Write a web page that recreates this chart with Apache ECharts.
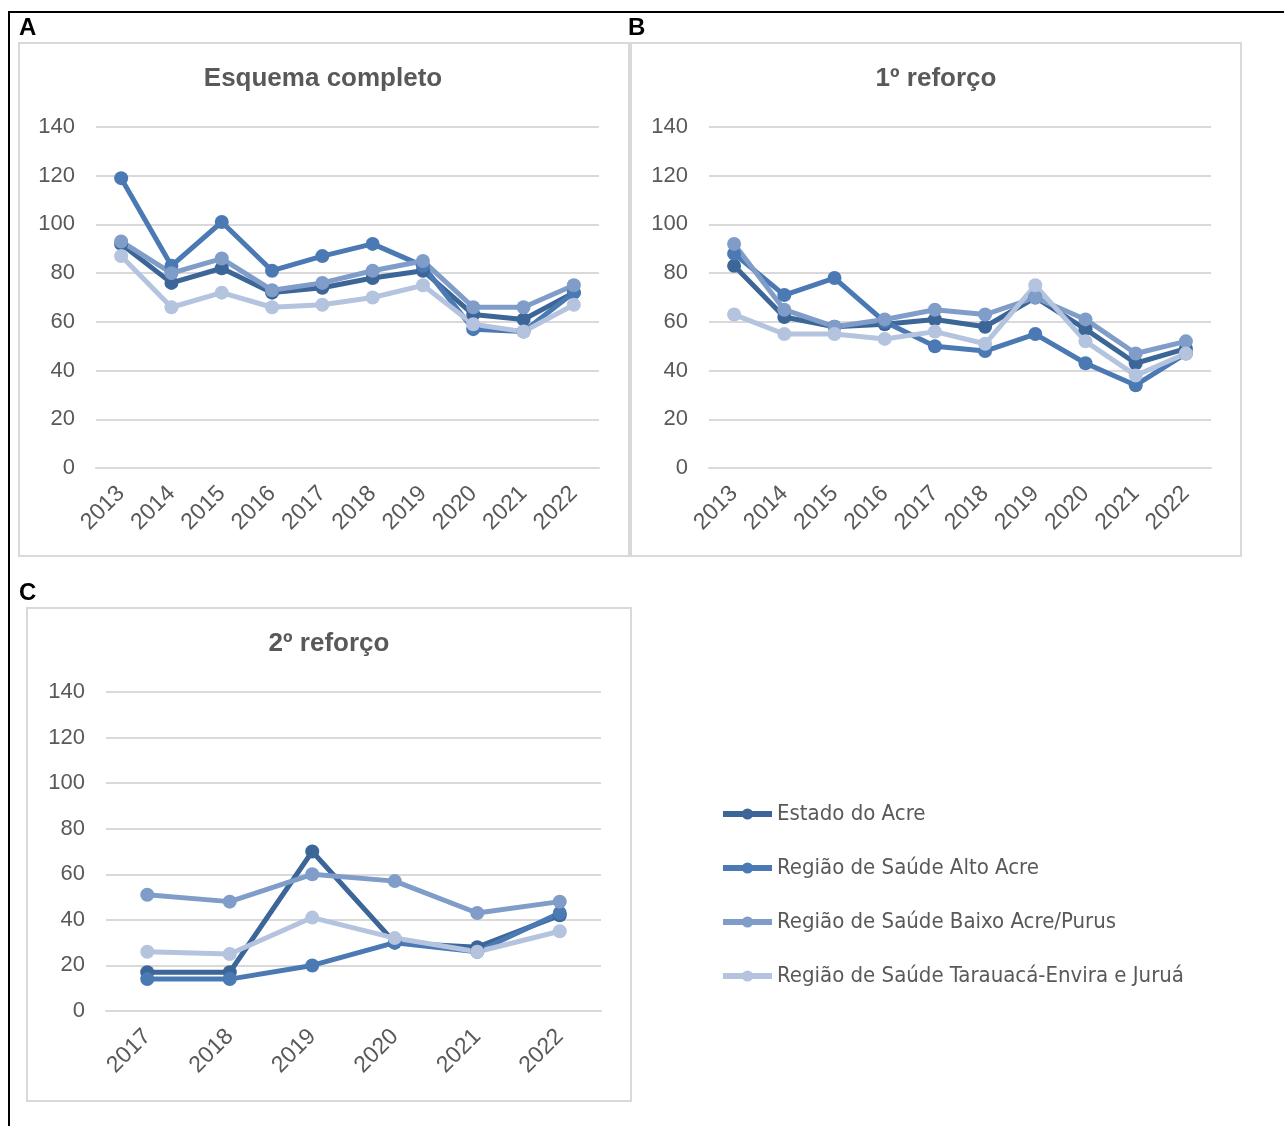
<!DOCTYPE html>
<html>
<head>
<meta charset="utf-8">
<script src="https://cdn.jsdelivr.net/npm/echarts@6/dist/echarts.min.js"></script>
<style>
html,body{margin:0;padding:0;background:#fff;}
#chart{width:1284px;height:1126px;}
</style>
</head>
<body>
<div id="chart"></div>
<script>
// ---- data ----
const yearsAB = ['2013','2014','2015','2016','2017','2018','2019','2020','2021','2022'];
const yearsC = ['2017','2018','2019','2020','2021','2022'];
const seriesNames = ['Estado do Acre','Região de Saúde Alto Acre','Região de Saúde Baixo Acre/Purus','Região de Saúde Tarauacá-Envira e Juruá'];
const yTicks = [0,20,40,60,80,100,120,140];

// A: Esquema completo
const A_estado = [92, 76, 82, 72, 74, 78, 81, 63, 61, 72];
const A_alto   = [119, 83, 101, 81, 87, 92, 83, 57, 56, 72];
const A_baixo  = [93, 80, 86, 73, 76, 81, 85, 66, 66, 75];
const A_tara   = [87, 66, 72, 66, 67, 70, 75, 59, 56, 67];

// B: 1º reforço
const B_estado = [83, 62, 58, 59, 61, 58, 70, 57, 43, 49];
const B_alto   = [88, 71, 78, 60, 50, 48, 55, 43, 34, 47];
const B_baixo  = [92, 65, 58, 61, 65, 63, 70, 61, 47, 52];
const B_tara   = [63, 55, 55, 53, 56, 51, 75, 52, 38, 47];

// C: 2º reforço
const C_estado = [17, 17, 70, 30, 28, 42];
const C_alto   = [14, 14, 20, 30, 26, 43];
const C_baixo  = [51, 48, 60, 57, 43, 48];
const C_tara   = [26, 25, 41, 32, 26, 35];

const titles = ['Esquema completo', '1º reforço', '2º reforço'];
const panelLetters = ['A', 'B', 'C'];

// ---- styling ----
const colors = ['#3c6698', '#4a79b3', '#7f9dc8', '#b4c3de'];
const txt = '#595959';
const grayLine = '#d9d9d9';
const FONT = "'Liberation Sans', Arial, sans-serif";

const grids = [
  {left: 96, top: 127, width: 503, height: 341},
  {left: 709, top: 127, width: 502, height: 341},
  {left: 106, top: 692, width: 495, height: 319}
];

function xAx(idx, cats){
  return {
    type: 'category', gridIndex: idx, data: cats, boundaryGap: true,
    axisTick: {show: false},
    axisLine: {show: true, lineStyle: {color: grayLine, width: 2}},
    axisLabel: {rotate: 45, margin: 22, color: txt, fontSize: 23, fontFamily: FONT}
  };
}
function yAx(idx){
  return {
    type: 'value', gridIndex: idx, min: yTicks[0], max: yTicks[yTicks.length-1], interval: 20,
    axisLine: {show: false}, axisTick: {show: false},
    splitLine: {show: true, lineStyle: {color: grayLine, width: 2}},
    axisLabel: {margin: 21, color: txt, fontSize: 22, fontFamily: FONT}
  };
}
function mk(name, data, idx, ci){
  return {
    name: name, type: 'line', xAxisIndex: idx, yAxisIndex: idx, data: data,
    symbol: 'circle', symbolSize: 14,
    lineStyle: {color: colors[ci], width: 5},
    itemStyle: {color: colors[ci]},
    emphasis: {disabled: true},
    animation: false
  };
}

const panelSets = [
  [A_estado, A_alto, A_baixo, A_tara],
  [B_estado, B_alto, B_baixo, B_tara],
  [C_estado, C_alto, C_baixo, C_tara]
];
const series = [];
panelSets.forEach((set, p) => {
  set.forEach((d, i) => series.push(mk(seriesNames[i], d, p, i)));
});

const graphics = [
  // outer frame (top and left)
  {type: 'line', shape: {x1: 8, y1: 12, x2: 1284, y2: 12}, style: {stroke: '#000', lineWidth: 2}},
  {type: 'line', shape: {x1: 9, y1: 12, x2: 9, y2: 1126}, style: {stroke: '#000', lineWidth: 2}},
  // panel boxes
  {type: 'rect', shape: {x: 19, y: 43, width: 610, height: 513}, style: {fill: 'none', stroke: grayLine, lineWidth: 2}},
  {type: 'rect', shape: {x: 631, y: 43, width: 610, height: 513}, style: {fill: 'none', stroke: grayLine, lineWidth: 2}},
  {type: 'rect', shape: {x: 27, y: 608, width: 604, height: 493}, style: {fill: 'none', stroke: grayLine, lineWidth: 2}},
  // panel letters
  {type: 'text', left: 19, top: 16, style: {text: panelLetters[0], font: "bold 24px " + FONT, fill: '#000'}},
  {type: 'text', left: 628, top: 16, style: {text: panelLetters[1], font: "bold 24px " + FONT, fill: '#000'}},
  {type: 'text', left: 19, top: 581, style: {text: panelLetters[2], font: "bold 24px " + FONT, fill: '#000'}},
  // titles
  {type: 'text', x: 323, y: 79, style: {text: titles[0], font: "bold 26px " + FONT, fill: txt, textAlign: 'center', textVerticalAlign: 'middle'}},
  {type: 'text', x: 936, y: 79, style: {text: titles[1], font: "bold 26px " + FONT, fill: txt, textAlign: 'center', textVerticalAlign: 'middle'}},
  {type: 'text', x: 329, y: 644, style: {text: titles[2], font: "bold 26px " + FONT, fill: txt, textAlign: 'center', textVerticalAlign: 'middle'}}
];

const chart = echarts.init(document.getElementById('chart'), null, {renderer: 'canvas'});
chart.setOption({
  animation: false,
  backgroundColor: '#fff',
  textStyle: {fontFamily: FONT},
  grid: grids,
  xAxis: [xAx(0, yearsAB), xAx(1, yearsAB), xAx(2, yearsC)],
  yAxis: [yAx(0), yAx(1), yAx(2)],
  legend: {
    data: seriesNames,
    orient: 'vertical',
    left: 715, top: 794,
    itemWidth: 49, itemHeight: 14,
    itemGap: 24,
    selectedMode: false,
    lineStyle: {width: 6},
    textStyle: {color: txt, fontSize: 22, lineHeight: 30, fontFamily: "'DejaVu Sans Condensed', 'Liberation Sans Narrow', sans-serif"}
  },
  graphic: graphics,
  series: series
});
</script>
</body>
</html>
